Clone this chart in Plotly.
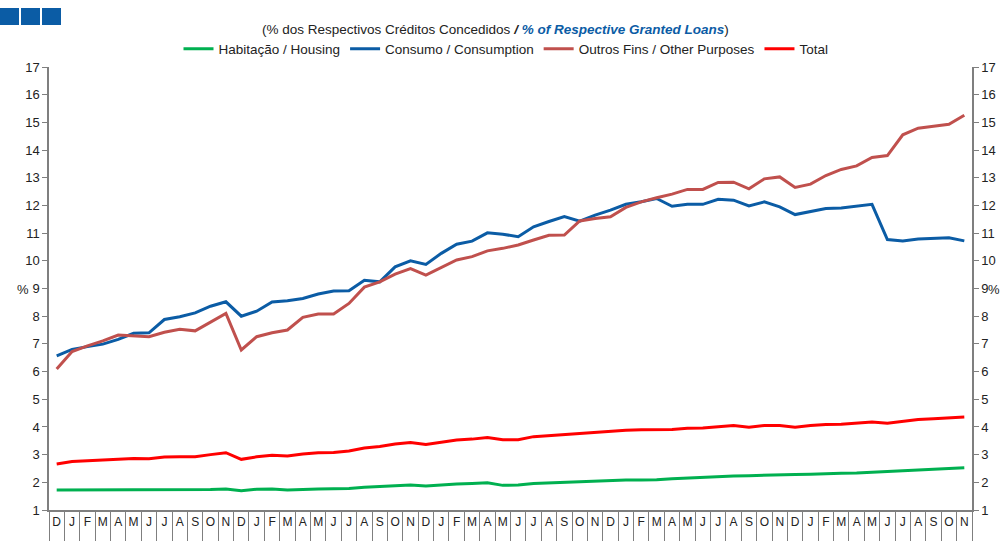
import plotly.graph_objects as go

# meses: Dez do ano 0 até Nov do ano 5
month_letters = ["D"] + (["J", "F", "M", "A", "M", "J", "J", "A", "S", "O", "N", "D"] * 5)[:59]
months = [f"m{i:02d}" for i in range(60)]

habitacao = [1.72, 1.72, 1.72, 1.72, 1.73, 1.73, 1.72, 1.73, 1.74, 1.73, 1.74, 1.76,
             1.70, 1.75, 1.76, 1.72, 1.75, 1.76, 1.77, 1.78, 1.82, 1.85, 1.87, 1.90,
             1.87, 1.91, 1.94, 1.96, 1.98, 1.89, 1.90, 1.96, 1.98, 2.01, 2.03, 2.06,
             2.07, 2.08, 2.08, 2.09, 2.13, 2.16, 2.18, 2.21, 2.23, 2.24, 2.26, 2.28,
             2.28, 2.29, 2.32, 2.33, 2.34, 2.37, 2.39, 2.43, 2.46, 2.49, 2.51, 2.53]

consumo = [6.57, 6.80, 6.90, 6.99, 7.16, 7.38, 7.40, 7.88, 7.98, 8.12, 8.36, 8.52,
           8.00, 8.18, 8.51, 8.56, 8.64, 8.80, 8.91, 8.92, 9.30, 9.24, 9.78, 10.00,
           9.87, 10.27, 10.60, 10.71, 11.01, 10.96, 10.87, 11.23, 11.42, 11.60, 11.43, 11.65,
           11.83, 12.04, 12.13, 12.25, 11.97, 12.04, 12.04, 12.22, 12.19, 11.98, 12.13, 11.95,
           11.67, 11.79, 11.89, 11.91, 11.97, 12.04, 10.77, 10.72, 10.79, 10.81, 10.83, 10.72]

outros = [6.09, 6.72, 6.93, 7.11, 7.32, 7.28, 7.26, 7.42, 7.53, 7.47, 7.80, 8.10,
          6.78, 7.26, 7.40, 7.50, 7.96, 8.08, 8.08, 8.46, 9.05, 9.24, 9.52, 9.72,
          9.48, 9.76, 10.03, 10.15, 10.36, 10.45, 10.57, 10.75, 10.92, 10.93, 11.44, 11.53,
          11.59, 11.93, 12.13, 12.28, 12.41, 12.58, 12.58, 12.83, 12.84, 12.60, 12.96, 13.03,
          12.65, 12.77, 13.08, 13.30, 13.43, 13.73, 13.80, 14.55, 14.79, 14.86, 14.93, 15.26]

total = [2.66, 2.75, 2.78, 2.80, 2.84, 2.86, 2.85, 2.91, 2.92, 2.92, 3.00, 3.07,
         2.83, 2.92, 2.98, 2.95, 3.02, 3.07, 3.08, 3.13, 3.24, 3.29, 3.38, 3.44,
         3.37, 3.46, 3.53, 3.56, 3.62, 3.54, 3.54, 3.65, 3.69, 3.72, 3.77, 3.80,
         3.84, 3.88, 3.90, 3.90, 3.91, 3.95, 3.96, 4.01, 4.05, 3.99, 4.05, 4.05,
         3.99, 4.05, 4.09, 4.10, 4.14, 4.18, 4.13, 4.21, 4.27, 4.30, 4.32, 4.36]

y_ticks = list(range(1, 18))

W, H = 1005, 542
L, R, T, B = 49, 972, 67, 510


def px(x):
    return (x - L) / (R - L)


def py(y):
    return (B - y) / (B - T)


fig = go.Figure()
series = [
    ("Habitação / Housing", habitacao, "#00B050"),
    ("Consumo / Consumption", consumo, "#0B5CA5"),
    ("Outros Fins / Other Purposes", outros, "#C0504D"),
    ("Total", total, "#FF0000"),
]
for name, vals, col in series:
    fig.add_trace(go.Scatter(x=months, y=vals, name=name, mode="lines",
                             line=dict(color=col, width=3)))

# eixos secundários (direita + separadores dos meses) activados por um traço invisível
fig.add_trace(go.Scatter(x=months, y=total, xaxis="x2", yaxis="y2", showlegend=False,
                         mode="lines", line=dict(width=0), opacity=0, hoverinfo="skip"))

axis_col = "#7F7F7F"
x_range = [-0.5, len(months) - 0.5]
yax = dict(range=[1, 17], tickvals=y_ticks, showgrid=False, zeroline=False,
           showline=True, linecolor=axis_col, linewidth=1.5, ticks="outside",
           ticklen=5, tickcolor=axis_col, tickfont=dict(size=13, color="#222"),
           automargin=False)

fig.update_layout(
    width=W, height=H,
    margin=dict(l=L, r=W - R, t=T, b=H - B, autoexpand=False),
    plot_bgcolor="white", paper_bgcolor="white",
    font=dict(family="Liberation Sans, Arial, sans-serif", color="#222"),
    xaxis=dict(type="category", range=x_range, tickvals=months, ticktext=month_letters,
               ticks="", tickangle=0, showline=True, linecolor=axis_col,
               linewidth=1.5, showgrid=False, tickfont=dict(size=12, color="#222"),
               automargin=False),
    xaxis2=dict(type="category", range=x_range, overlaying="x", side="bottom",
                tickson="boundaries", ticks="outside", ticklen=30, tickcolor=axis_col,
                showticklabels=False, showgrid=False, showline=False, automargin=False),
    yaxis=yax,
    yaxis2=dict(yax, overlaying="y", side="right", anchor="x2"),
    showlegend=True,
    legend=dict(orientation="h", x=px(506), xanchor="center", y=py(49), yanchor="middle",
                font=dict(size=13.5, color="#222"), itemwidth=30, tracegroupgap=0,
                bgcolor="rgba(0,0,0,0)"),
)

fig.add_annotation(
    text="(% dos Respectivos Créditos Concedidos <b><i>/ <span style='color:#0B5CA5'>% of Respective Granted Loans</span></i></b>)",
    xref="paper", yref="paper", x=px(495), y=py(20), showarrow=False,
    font=dict(size=13.5, color="#222"))

fig.add_annotation(text="%", xref="paper", yref="paper", x=px(15), y=py(289),
                   showarrow=False, font=dict(size=13, color="#222"))
fig.add_annotation(text="%", xref="paper", yref="paper", x=px(1002), y=py(289),
                   showarrow=False, font=dict(size=13, color="#222"))

# quadrados decorativos no canto superior esquerdo
for x0 in (0, 21, 42):
    fig.add_shape(type="rect", xref="paper", yref="paper",
                  x0=px(x0), x1=px(x0 + 19), y0=py(25), y1=py(8),
                  fillcolor="#0B5CA5", line=dict(width=0))

fig.write_html("out.html", config={"displayModeBar": False},
               post_script="document.body.style.margin='0';")
